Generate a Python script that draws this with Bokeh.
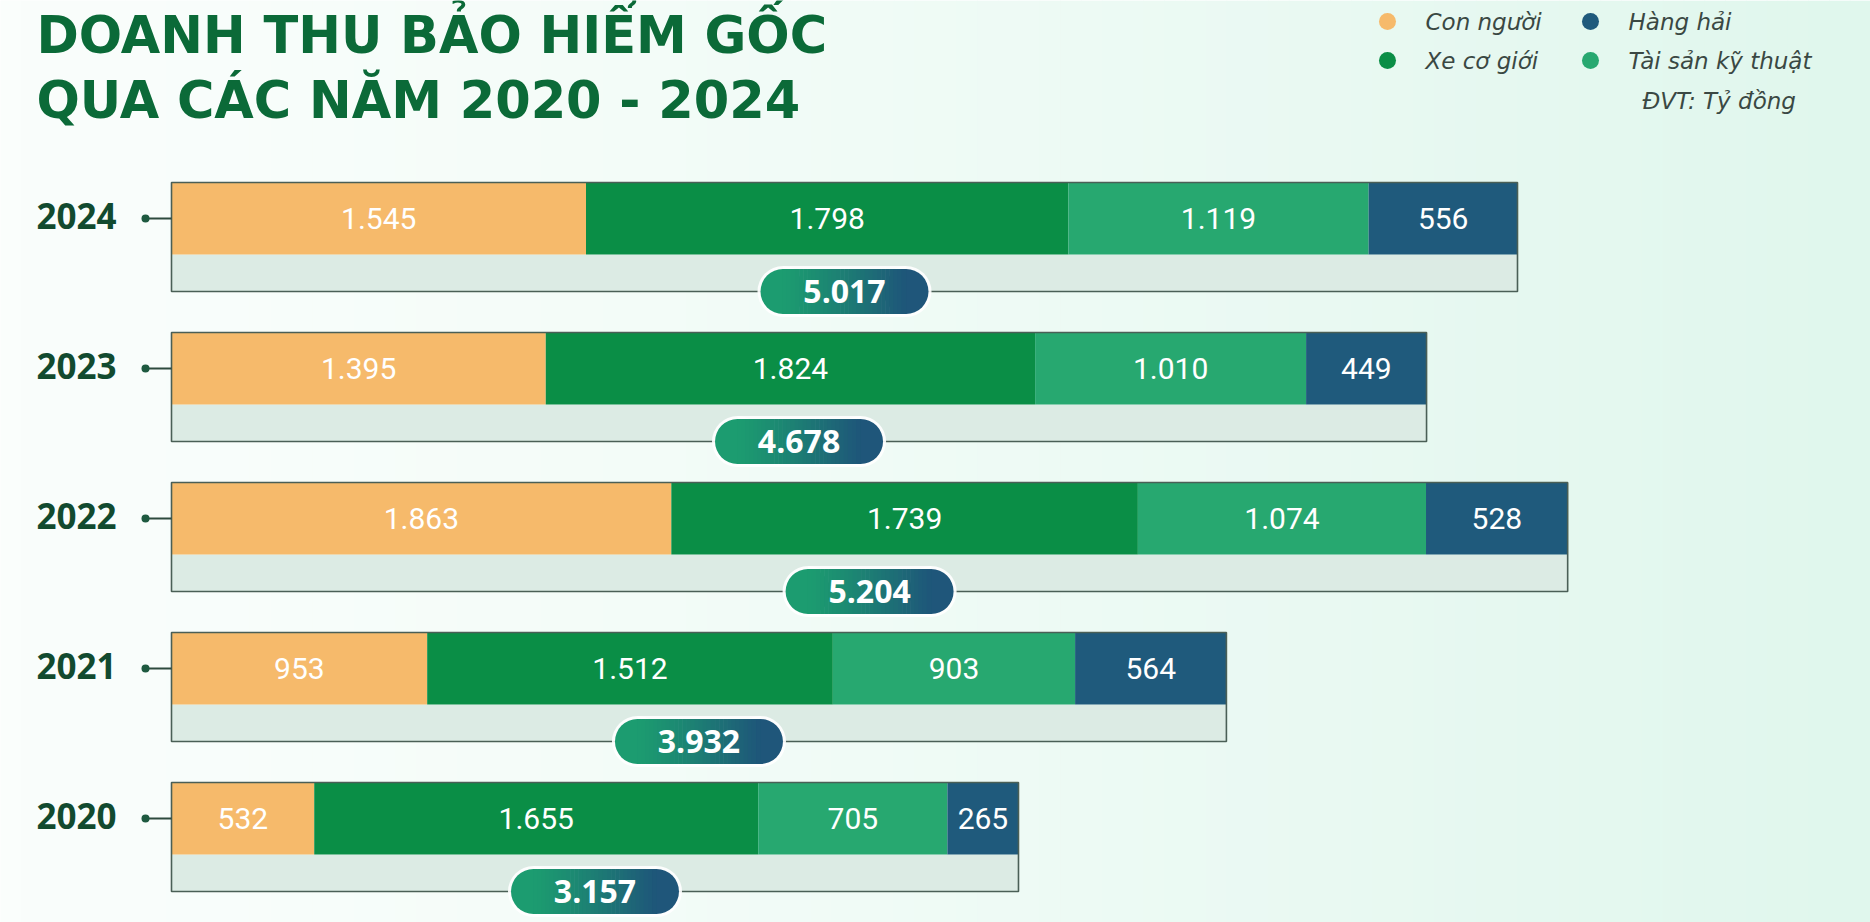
from bokeh.plotting import figure
from bokeh.models import Range1d, ColumnDataSource
from bokeh.core.properties import value
from bokeh.embed import file_html
from bokeh.resources import INLINE
import numpy as np

# ---------------- data ----------------
years = ["2024", "2023", "2022", "2021", "2020"]
con_nguoi = [1545, 1395, 1863, 953, 532]
xe_co_gioi = [1798, 1824, 1739, 1512, 1655]
tai_san_ky_thuat = [1119, 1010, 1074, 903, 705]
hang_hai = [556, 449, 528, 564, 265]
totals = [5017, 4678, 5204, 3932, 3157]
series_names = ["Con người", "Xe cơ giới", "Tài sản kỹ thuật", "Hàng hải"]
title_lines = ["DOANH THU BẢO HIỂM GỐC", "QUA CÁC NĂM 2020 - 2024"]
unit_note = "ĐVT: Tỷ đồng"

# ---------------- style / layout ----------------
colors = ["#F6BA6B", "#0A8E46", "#27A870", "#1F5A7C"]
W, H = 1870, 922
K = 1346 / 5017          # px per unit
X0 = 171                 # canvas px of value 0


def dx(px):
    return (px - X0) / K


def fmt(v):
    return f"{v:,}".replace(",", ".")


p = figure(width=W, height=H, x_range=Range1d(dx(0), dx(W)), y_range=Range1d(H, 0),
           output_backend="svg", toolbar_location=None, min_border=0,
           x_axis_type=None, y_axis_type=None)
p.grid.visible = False
p.outline_line_color = None
p.background_fill_color = "#fbfefd"
p.border_fill_color = "#fbfefd"

# background gradient (white -> mint)
N = 90
edges = np.linspace(0, W, N + 1)
c0 = np.array([250, 254, 252])
c1 = np.array([224, 247, 237])
bg_cols = []
for i in range(N):
    t = (i / (N - 1)) ** 1.3
    c = (c0 + (c1 - c0) * t).astype(int)
    bg_cols.append("#%02x%02x%02x" % tuple(c))
p.quad(left=[dx(e) for e in edges[:-1]], right=[dx(e + 1) for e in edges[1:]],
       top=[0] * N, bottom=[H] * N, fill_color=bg_cols, line_color=None)

# rows
n = len(years)
row_top = [182 + 150 * i for i in range(n)]
bar_h = 72
grey_h = 37
bar_c = [t + bar_h / 2 for t in row_top]
grey_c = [t + bar_h + grey_h / 2 for t in row_top]
grey_bot = [t + bar_h + grey_h for t in row_top]

src = ColumnDataSource(dict(y=bar_c, a=con_nguoi, b=xe_co_gioi, c=tai_san_ky_thuat, d=hang_hai,
                            total=totals, gy=grey_c))

# grey lower bar
p.hbar(y="gy", left=0, right="total", height=grey_h, source=src,
       fill_color="#DCEBE4", line_color=None)
# stacked coloured bar
p.hbar_stack(["a", "b", "c", "d"], y="y", height=bar_h, color=colors, line_color=None, source=src)
# outline of the box
p.quad(left=[0] * n, right=totals, top=row_top, bottom=grey_bot,
       fill_color=None, line_color="#4A5F56", line_width=1.6)

# segment labels
lx, ly, lt = [], [], []
for i in range(n):
    vals = [con_nguoi[i], xe_co_gioi[i], tai_san_ky_thuat[i], hang_hai[i]]
    cum = 0
    for v in vals:
        lx.append(cum + v / 2)
        ly.append(bar_c[i])
        lt.append(fmt(v))
        cum += v
p.text(x=lx, y=ly, text=lt, text_color="white", text_font=value("Roboto"),
       text_font_size="30px", text_align="center", text_baseline="middle")

# year labels with dot + connector
p.text(x=[dx(36)] * n, y=[c - 3 for c in bar_c], text=years, text_color="#124A2F",
       text_font=value("Open Sans"), text_font_style="bold", text_font_size="35px",
       text_align="left", text_baseline="middle")
p.segment(x0=[dx(145)] * n, x1=[0] * n, y0=bar_c, y1=bar_c, line_color="#2E4A3E", line_width=1.8)
p.scatter(x=[dx(145)] * n, y=bar_c, size=8, fill_color="#1F5A40", line_color=None)

# total badges (pill with gradient)
bw, bh = 168, 45
r = bh / 2
half = (bw / 2 - r) / K
cx = [t / 2 for t in totals]
# halo
p.rect(x=cx, y=grey_bot, width=2 * half, height=bh + 6, height_units="screen",
       fill_color="white", line_color=None, fill_alpha=0.9)
p.scatter(x=[c - half for c in cx], y=grey_bot, size=bh + 6, fill_color="white", line_color=None, fill_alpha=0.9)
p.scatter(x=[c + half for c in cx], y=grey_bot, size=bh + 6, fill_color="white", line_color=None, fill_alpha=0.9)
g0 = np.array([28, 156, 112])
g1 = np.array([31, 86, 122])
p.scatter(x=[c - half for c in cx], y=grey_bot, size=bh, fill_color="#%02x%02x%02x" % tuple(g0), line_color=None)
p.scatter(x=[c + half for c in cx], y=grey_bot, size=bh, fill_color="#%02x%02x%02x" % tuple(g1), line_color=None)
S = 30
sx, sy, scol = [], [], []
for i in range(n):
    for s in range(S):
        t = (s + 0.5) / S
        sx.append(cx[i] - half + 2 * half * t)
        sy.append(grey_bot[i])
        tt = t ** 1.2
        c = (g0 + (g1 - g0) * tt).astype(int)
        scol.append("#%02x%02x%02x" % tuple(c))
p.rect(x=sx, y=sy, width=2 * half / S * 1.15, height=bh, height_units="screen",
       fill_color=scol, line_color=None)
p.text(x=cx, y=grey_bot, text=[fmt(t) for t in totals], text_color="white",
       text_font=value("Open Sans"), text_font_style="bold", text_font_size="32px",
       text_align="center", text_baseline="middle")

# title
p.text(x=[dx(36), dx(36)], y=[35, 100], text=title_lines, text_color="#0B6A38",
       text_font=value("DejaVu Sans"), text_font_style="bold", text_font_size="51px",
       text_align="left", text_baseline="middle")

# legend
leg_x = [dx(1387), dx(1387), dx(1590), dx(1590)]
leg_y = [21, 60, 60, 21]
p.scatter(x=leg_x, y=leg_y, size=17, fill_color=colors, line_color=None)
p.text(x=[x + 38 / K for x in leg_x], y=leg_y, text=series_names, text_color="#3A4843",
       text_font=value("DejaVu Sans"), text_font_style="italic", text_font_size="23px",
       text_align="left", text_baseline="middle")
p.text(x=[dx(1642)], y=[100], text=[unit_note], text_color="#3A4843",
       text_font=value("DejaVu Sans"), text_font_style="italic", text_font_size="23px",
       text_align="left", text_baseline="middle")

open("out.html", "w").write(file_html(p, INLINE))
